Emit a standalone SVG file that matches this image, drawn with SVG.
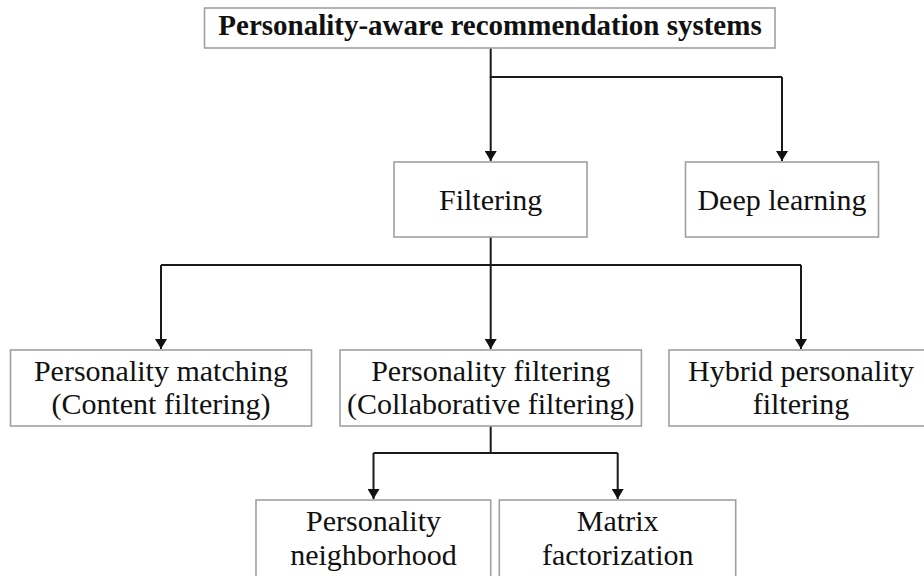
<svg xmlns="http://www.w3.org/2000/svg" width="924" height="576" viewBox="0 0 924 576">
<defs>
<style>
.box{fill:#fff;stroke:#a0a0a0;stroke-width:1.6}
.t{font-family:"Liberation Serif","Times New Roman",serif;font-size:30px;fill:#111;text-anchor:middle}
.b{font-weight:bold;font-size:29px}
.c{fill:none;stroke:#1a1a1a;stroke-width:2}
</style>
<marker id="ah" viewBox="0 0 10 12" refX="10" refY="6" markerWidth="10" markerHeight="12" markerUnits="userSpaceOnUse" orient="auto">
<path d="M0,0 L10,6 L0,12 Z" fill="#111"/>
</marker>
</defs>
<rect width="924" height="576" fill="#fff"/>
<g id="connectors">
<path class="c" d="M490.7,48 V77 H782"/>
<path class="c" d="M490.7,77 V161" marker-end="url(#ah)"/>
<path class="c" d="M782,77 V161" marker-end="url(#ah)"/>
<path class="c" d="M490.7,237 V265 H161 M490.7,265 H801"/>
<path class="c" d="M161,265 V349" marker-end="url(#ah)"/>
<path class="c" d="M490.7,265 V349" marker-end="url(#ah)"/>
<path class="c" d="M801,265 V349" marker-end="url(#ah)"/>
<path class="c" d="M490.7,426 V453 H373.5 M490.7,453 H617.7"/>
<path class="c" d="M373.5,453 V499" marker-end="url(#ah)"/>
<path class="c" d="M617.7,453 V499" marker-end="url(#ah)"/>
</g>
<g id="root">
<rect class="box" x="204.5" y="8" width="570.5" height="40"/>
<text class="t b" x="490" y="35">Personality-aware recommendation systems</text>
</g>
<g id="filtering">
<rect class="box" x="394" y="162" width="193" height="75"/>
<text class="t" x="490.7" y="210">Filtering</text>
</g>
<g id="deep-learning">
<rect class="box" x="685.5" y="162" width="193" height="75"/>
<text class="t" x="782" y="210">Deep learning</text>
</g>
<g id="personality-matching">
<rect class="box" x="10.5" y="350" width="301" height="76"/>
<text class="t" x="161" y="381">Personality matching</text>
<text class="t" x="161" y="414">(Content filtering)</text>
</g>
<g id="personality-filtering">
<rect class="box" x="340" y="350" width="301.4" height="76"/>
<text class="t" x="490.7" y="381">Personality filtering</text>
<text class="t" x="490.7" y="414">(Collaborative filtering)</text>
</g>
<g id="hybrid">
<rect class="box" x="669" y="350" width="264" height="76"/>
<text class="t" x="801" y="381">Hybrid personality</text>
<text class="t" x="801" y="414">filtering</text>
</g>
<g id="neighborhood">
<rect class="box" x="256" y="500" width="234.7" height="100"/>
<text class="t" x="373.5" y="531">Personality</text>
<text class="t" x="373.5" y="565">neighborhood</text>
</g>
<g id="matrix">
<rect class="box" x="499.3" y="500" width="236.4" height="100"/>
<text class="t" x="617.7" y="531">Matrix</text>
<text class="t" x="617.7" y="565">factorization</text>
</g>
</svg>
